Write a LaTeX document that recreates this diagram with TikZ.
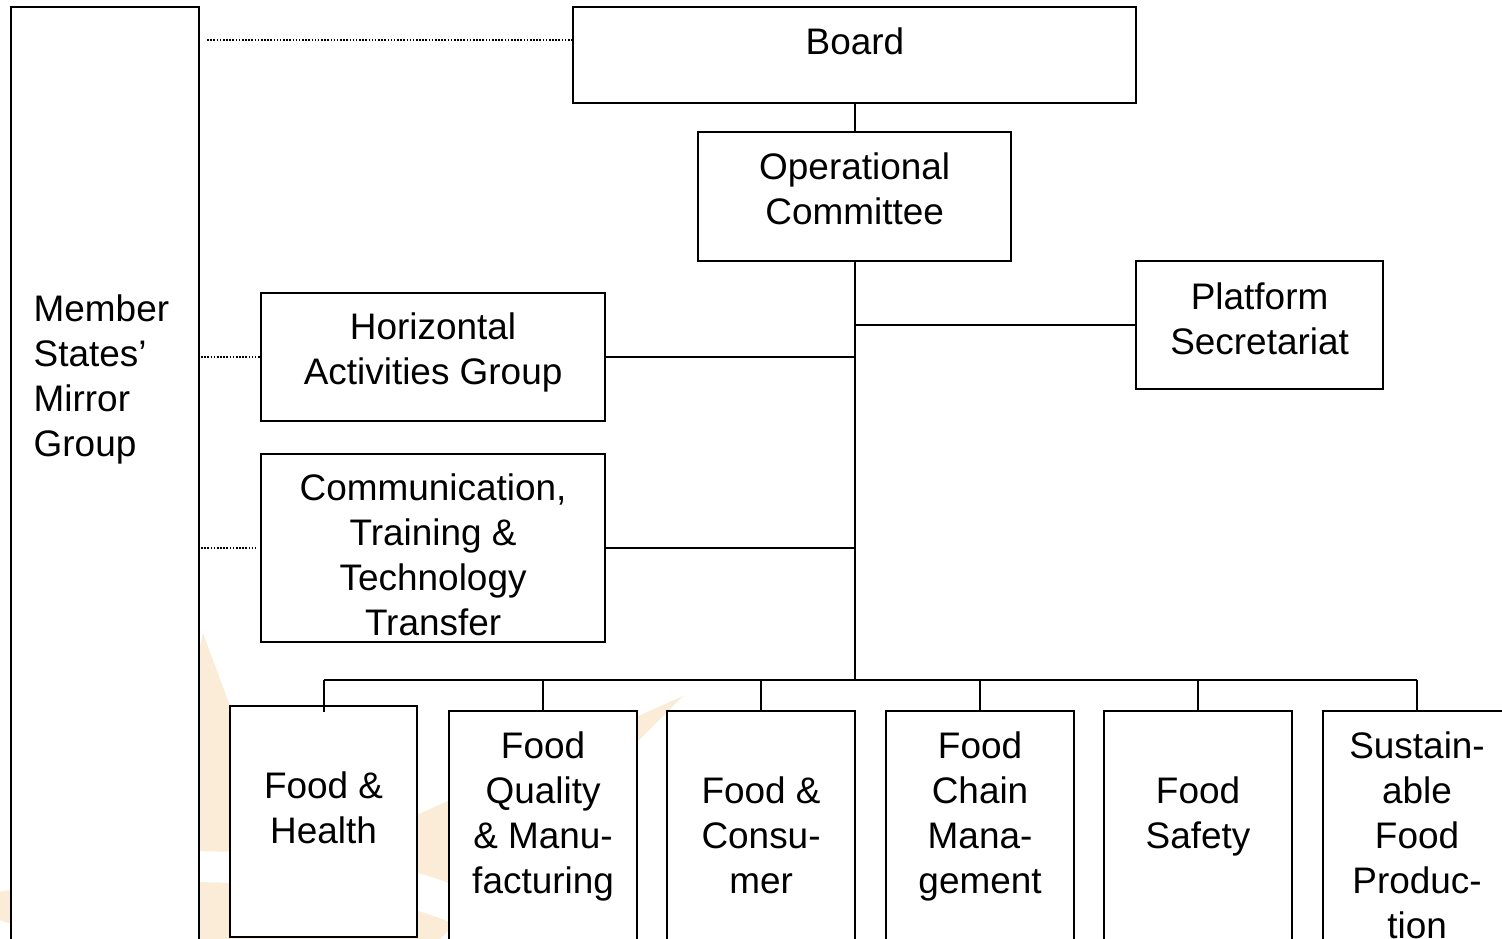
\documentclass[tikz,border=0pt]{standalone}
\usepackage{fontspec}
\setmainfont{Liberation Sans}
\usetikzlibrary{positioning}
\definecolor{starbeige}{RGB}{250,236,214}

\tikzset{
	unit/.style={draw, fill=white, line width=0.6pt, inner sep=0pt, outer sep=0pt, align=center},
	caption/.style={inner sep=0pt, align=center},
	link/.style={line width=0.6pt},
	mirrorlink/.style={line width=0.45pt, dash pattern=on 0.45pt off 0.45pt}
}

\begin{document}
\begin{tikzpicture}[x=0.01cm, y=-0.01cm, font=\fontsize{10.5pt}{12.8pt}\selectfont]
	\useasboundingbox (0,0) rectangle (1502,939);
	\clip (0,0) rectangle (1502,939);

	% faint logo in the background
	\fill[starbeige] (203,633) -- (291,871) -- (683,696) -- (430,949) -- (120,960) -- (-60,900) -- (150,870) -- cycle;
	\fill[white] (180,851) .. controls (320,852) and (400,860) .. (470,892) -- (470,930) .. controls (400,900) and (320,882) .. (180,882) -- cycle;

	\node[unit, minimum width=1.88cm, minimum height=10cm, anchor=north west] (mirror) at (11,7) {};
	\node[caption, anchor=west, align=left] (mirrortxt) at (33,379) {Member\\States’\\Mirror\\Group};

	\node[unit, minimum width=5.63cm, minimum height=0.96cm, anchor=north west] (board) at (573,7) {};
	\node[caption] (boardtxt) at (855,41) {Board};
	\node[unit, minimum width=3.13cm, minimum height=1.29cm, below=0.29cm of board] (opcom) {};
	\node[caption] (opcomtxt) at ([yshift=0.08cm]opcom.center) {Operational\\Committee};
	\node[unit, minimum width=2.47cm, minimum height=1.28cm, anchor=north west] (secretariat) at (1136,261) {};
	\node[caption] (secretariattxt) at ([yshift=0.06cm]secretariat.center) {Platform\\Secretariat};
	\node[unit, minimum width=3.44cm, minimum height=1.28cm, anchor=north west] (hag) at (261,293) {};
	\node[caption] (hagtxt) at ([yshift=0.05cm]hag.center) {Horizontal\\Activities Group};
	\node[unit, minimum width=3.44cm, minimum height=1.88cm, anchor=north west] (ctt) at (261,454) {};
	\node[caption] (ctttxt) at ([yshift=-0.07cm]ctt.center) {Communication,\\Training \&\\Technology\\Transfer};

	% research areas
	\node[unit, minimum width=1.87cm, minimum height=2.31cm, anchor=north west] (fh) at (230,706) {};
	\node[unit, minimum width=1.88cm, minimum height=3cm, anchor=north west] (fqm) at (449,711) {};
	\node[unit, minimum width=1.88cm, minimum height=3cm, anchor=north west] (fc) at (667,711) {};
	\node[unit, minimum width=1.88cm, minimum height=3cm, anchor=north west] (fcm) at (886,711) {};
	\node[unit, minimum width=1.88cm, minimum height=3cm, anchor=north west] (fs) at (1104,711) {};
	\node[unit, minimum width=1.88cm, minimum height=3cm, anchor=north west] (sfp) at (1323,711) {};

	\node[caption] (fhtxt) at (fh.north |- 0,808) {Food \&\\Health};
	\node[caption] (fqmtxt) at (fqm.north |- 0,816) {Food\\Quality\\\& Manu-\\facturing};
	\node[caption] (fctxt) at (fc.north |- 0,835) {Food \&\\Consu-\\mer};
	\node[caption] (fcmtxt) at (fcm.north |- 0,816) {Food\\Chain\\Mana-\\gement};
	\node[caption] (fstxt) at (fs.north |- 0,816) {Food\\Safety};
	\node[caption] (sfptxt) at (sfp.north |- 0,835) {Sustain-\\able\\Food\\Produc-\\tion};

	\coordinate (bus) at (opcom.south |- 0,680);
	\draw[link] (board) -- (opcom);
	\draw[link] (opcom) -- (bus);
	\draw[link] (secretariat) -- (secretariat -| bus);
	\draw[link] (hag) -- (hag -| bus);
	\draw[link] (ctt) -- (ctt -| bus);
	\draw[link] (fh.north |- bus) -- (sfp.north |- bus);
	\draw[link] (fh.north |- bus) -- ([yshift=-0.06cm]fh.north);
	\draw[link] (fqm.north |- bus) -- (fqm);
	\draw[link] (fc.north |- bus) -- (fc);
	\draw[link] (fcm.north |- bus) -- (fcm);
	\draw[link] (fs.north |- bus) -- (fs);
	\draw[link] (sfp.north |- bus) -- (sfp);

	% mirror group links
	\draw[mirrorlink] ([xshift=0.08cm,yshift=-0.33cm]mirror.east |- board.north) -- ([yshift=-0.33cm]board.north west);
	\draw[mirrorlink] ([xshift=0.02cm]mirror.east |- hag) -- (hag);
	\draw[mirrorlink] ([xshift=0.02cm]mirror.east |- ctt) -- ([xshift=-0.04cm]ctt.west);
\end{tikzpicture}
\end{document}
